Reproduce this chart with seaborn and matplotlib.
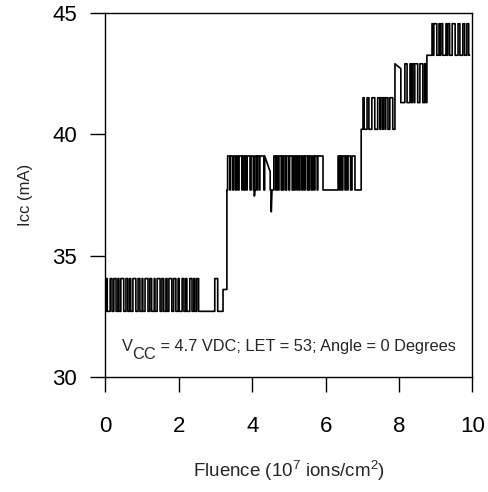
import numpy as np
import pandas as pd
import matplotlib
matplotlib.use("Agg")
import matplotlib.pyplot as plt
import seaborn as sns

# ---- data ----
# plateau segments: start/end fluence, low and high current level
seg_start = [0.00, 3.205, 3.31, 6.97, 7.89, 8.76]
seg_end   = [3.205, 3.31, 6.97, 7.89, 8.76, 9.92]
seg_low   = [32.70, 33.60, 37.70, 40.20, 41.30, 43.25]
seg_high  = [34.05, 33.60, 39.10, 41.50, 42.90, 44.55]

# toggling pulses (on / off fluence)
pulse_on = [0.01, 0.13, 0.23, 0.34, 0.42, 0.56, 0.66, 0.75, 0.89, 1.00, 1.08, 1.21, 1.33,
            1.41, 1.54, 1.65, 1.73, 1.86, 1.98, 2.09, 2.19, 2.30, 2.41, 2.49, 2.98,
            3.33, 3.41, 3.50, 3.58, 3.64, 3.74, 3.80, 3.86, 3.97, 4.07, 4.14, 4.21,
            4.59, 4.66, 4.73, 4.81, 4.86, 4.94, 5.02, 5.11, 5.17, 5.24, 5.30, 5.38,
            5.44, 5.52, 5.57, 5.65, 5.71, 5.79,
            6.34, 6.40, 6.47, 6.55, 6.61, 6.72,
            7.02, 7.13, 7.26, 7.42, 7.50, 7.57, 7.64, 7.75,
            8.16, 8.30, 8.36, 8.43, 8.57, 8.70,
            8.90, 8.95, 9.09, 9.14, 9.28, 9.33, 9.45, 9.61, 9.74, 9.85]
pulse_off = [0.05, 0.18, 0.29, 0.37, 0.50, 0.61, 0.69, 0.83, 0.94, 1.02, 1.16, 1.26, 1.35,
             1.49, 1.59, 1.68, 1.81, 1.92, 2.01, 2.14, 2.22, 2.36, 2.44, 2.54, 3.06,
             3.39, 3.47, 3.55, 3.62, 3.72, 3.78, 3.84, 3.94, 4.03, 4.12, 4.19, 4.32,
             4.64, 4.70, 4.79, 4.84, 4.91, 5.00, 5.09, 5.14, 5.22, 5.28, 5.35, 5.42,
             5.50, 5.55, 5.62, 5.69, 5.77, 5.93,
             6.38, 6.44, 6.53, 6.59, 6.68, 6.80,
             7.05, 7.18, 7.34, 7.48, 7.55, 7.62, 7.70, 7.83,
             8.22, 8.34, 8.41, 8.51, 8.65, 8.74,
             8.93, 9.03, 9.12, 9.19, 9.31, 9.38, 9.53, 9.66, 9.79, 9.90]

# sagging high states: start, end, level at end
sag_on = [4.34, 7.89]
sag_off = [4.49, 8.05]
sag_end_level = [38.45, 42.70]

# short downward spikes
spike_x = [4.05, 4.51]
spike_y = [37.45, 36.80]

# ---- build the trace ----
def seg_index(x):
    for i in range(len(seg_start)):
        if seg_start[i] <= x < seg_end[i]:
            return i
    return len(seg_start) - 1

features = []
for a, b in zip(pulse_on, pulse_off):
    i = seg_index(a)
    lo, hi = seg_low[i], seg_high[i]
    features.append((a, [(a, lo), (a, hi), (b, hi), (b, lo)]))
for a, b, lv in zip(sag_on, sag_off, sag_end_level):
    i = seg_index(a)
    lo, hi = seg_low[i], seg_high[i]
    features.append((a, [(a, lo), (a, hi), (b, lv), (b, lo)]))
for x, y in zip(spike_x, spike_y):
    i = seg_index(x)
    lo = seg_low[i]
    features.append((x, [(x, lo), (x + 0.01, y), (x + 0.03, lo)]))
features.sort(key=lambda f: f[0])

xs, ys = [], []
fi = 0
for i in range(len(seg_start)):
    xs.append(seg_start[i]); ys.append(seg_low[i])
    while fi < len(features) and features[fi][0] < seg_end[i]:
        for px, py in features[fi][1]:
            xs.append(px); ys.append(py)
        fi += 1
    xs.append(seg_end[i]); ys.append(seg_low[i])

df = pd.DataFrame({"fluence": xs, "icc": ys})

# ---- plot ----
sns.set_style("ticks")
plt.rcParams["font.family"] = ["Liberation Sans", "DejaVu Sans"]
plt.rcParams["mathtext.fontset"] = "custom"
plt.rcParams["mathtext.rm"] = "Liberation Sans"

fig = plt.figure(figsize=(4.88, 4.92), dpi=100)
ax = fig.add_axes([0.216, 0.234, 0.752, 0.740])

sns.lineplot(data=df, x="fluence", y="icc", estimator=None, sort=False,
             color="black", lw=1.2, ax=ax)

ax.set_xlim(0, 10)
ax.set_ylim(30, 45)
ax.set_xticks([0, 2, 4, 6, 8, 10])
ax.set_yticks([30, 35, 40, 45])
ax.tick_params(direction="out", length=10.5, width=1.0, labelsize=16,
               color="black", labelcolor="black")
ax.tick_params(axis="x", pad=18)
ax.tick_params(axis="y", pad=10)
for sp in ax.spines.values():
    sp.set_visible(True)
    sp.set_color("black")
    sp.set_linewidth(1.0)

ax.set_xlabel(r"Fluence (10$^{\mathregular{7}}$ ions/cm$^{\mathregular{2}}$)", fontsize=13.5,
              labelpad=15)
ax.set_ylabel("Icc (mA)", fontsize=12, labelpad=14)

t1 = ax.text(0.44, 31.08, "V", fontsize=11.8, ha="left", va="baseline")
t2 = ax.annotate("CC", xy=(1, 0), xycoords=t1, xytext=(0, -6),
                 textcoords="offset points", fontsize=11.8, ha="left", va="bottom")
ax.annotate(" = 4.7 VDC; LET = 53; Angle = 0 Degrees", xy=(1, 0), xycoords=t2,
            xytext=(0, 6), textcoords="offset points", fontsize=11.8,
            ha="left", va="bottom")

fig.savefig("out.png", dpi=100)
